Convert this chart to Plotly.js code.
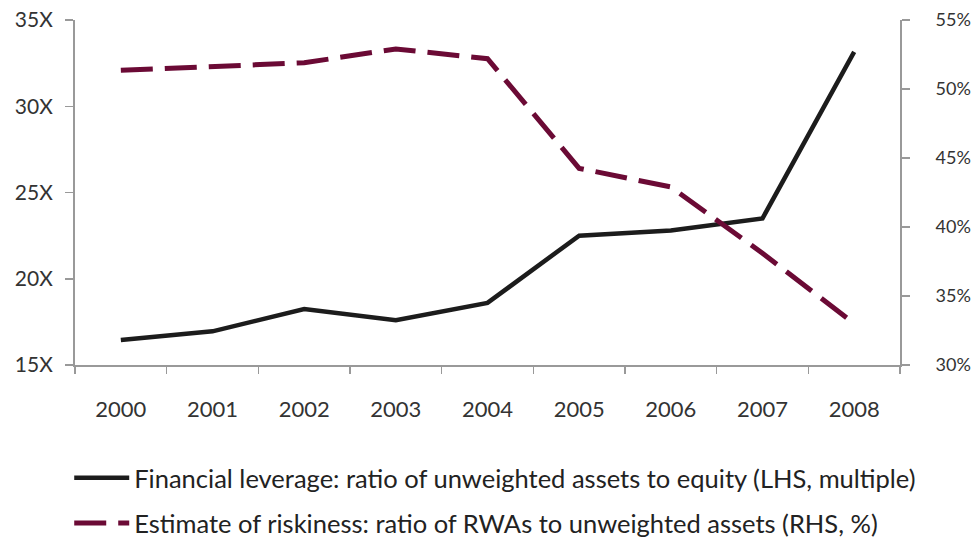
<!DOCTYPE html>
<html>
<head>
<meta charset="utf-8">
<script src="https://cdn.plot.ly/plotly-3.0.1.min.js"></script>
<style>html,body{margin:0;padding:0;background:#fff;}#chart{width:976px;height:542px;}</style>
</head>
<body>
<div id="chart"></div>
<script>
const years = ["2000","2001","2002","2003","2004","2005","2006","2007","2008"];
const leverage = [16.45, 16.95, 18.25, 17.6, 18.6, 22.5, 22.8, 23.5, 33.15];
const riskiness = [51.35, 51.6, 51.9, 52.9, 52.2, 44.25, 42.9, 38.1, 33.0];
const leftTickVals = [15, 20, 25, 30, 35];
const leftTickText = ["15X", "20X", "25X", "30X", "35X"];
const rightTickVals = [30, 35, 40, 45, 50, 55];
const rightTickText = ["30%", "35%", "40%", "45%", "50%", "55%"];
const names = [
  "Financial leverage: ratio of unweighted assets to equity (LHS, multiple)",
  "Estimate of riskiness: ratio of RWAs to unweighted assets (RHS, %)"
];

const FONT = "Lato, 'Open Sans', sans-serif";
const traces = [
  {x: years, y: leverage, type: "scatter", mode: "lines", name: names[0],
   line: {color: "#1c1c1c", width: 4.5}, yaxis: "y", legendgroup: "a"},
  {x: years, y: riskiness, type: "scatter", mode: "lines", name: names[1],
   line: {color: "#6b0a35", width: 5, dash: "32px,12px"}, yaxis: "y2", legendgroup: "b"}
];

const layout = {
  width: 976, height: 542,
  margin: {l: 75, r: 76, t: 20, b: 177, autoexpand: false},
  paper_bgcolor: "#fff", plot_bgcolor: "#fff",
  font: {family: FONT, color: "#333", size: 18},
  showlegend: true,
  legend: {x: -0.007, xanchor: "left", y: -0.26, yanchor: "top", itemwidth: 55,
           font: {family: FONT, size: 25.5, color: "#222"}, tracegroupgap: 9,
           bgcolor: "rgba(0,0,0,0)"},
  xaxis: {type: "category", showgrid: false, zeroline: false,
          showline: true, linecolor: "#999", linewidth: 2,
          ticks: "outside", tickson: "boundaries", ticklen: 7, tickcolor: "#999", tickwidth: 1.5,
          tickfont: {family: FONT, size: 22, color: "#333"}, ticklabelstandoff: 24,
          range: [-0.5, 8.5]},
  yaxis: {range: [15, 35], tickvals: leftTickVals, ticktext: leftTickText,
          showgrid: false, zeroline: false, showline: true, linecolor: "#999", linewidth: 2,
          ticks: "outside", ticklen: 8, tickcolor: "#999", tickwidth: 1.5,
          tickfont: {family: FONT, size: 21, color: "#333"}, ticklabelstandoff: 8},
  yaxis2: {range: [30, 55], tickvals: rightTickVals, ticktext: rightTickText,
           overlaying: "y", side: "right",
           showgrid: false, zeroline: false, showline: true, linecolor: "#999", linewidth: 2,
           ticks: "outside", ticklen: 8, tickcolor: "#999", tickwidth: 1.5,
           tickfont: {family: FONT, size: 18, color: "#333"}, ticklabelstandoff: 22}
};

Plotly.newPlot("chart", traces, layout, {displayModeBar: false, staticPlot: true});
</script>
</body>
</html>
